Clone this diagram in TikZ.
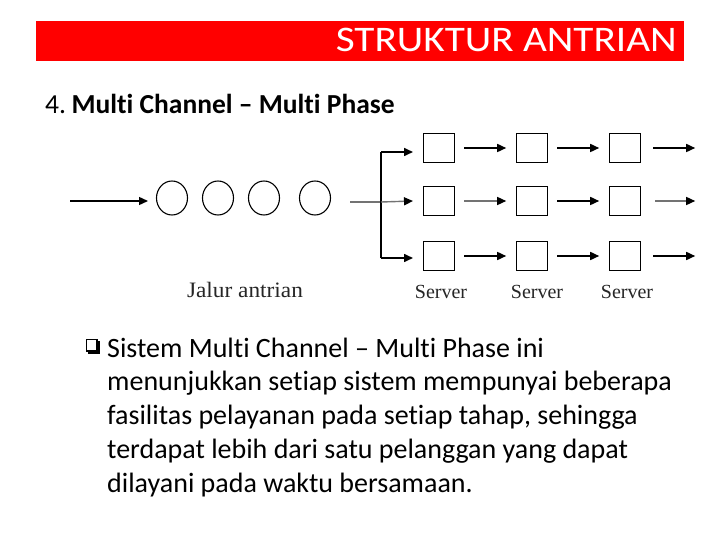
\documentclass[tikz,border=0pt]{standalone}
\usepackage{fontspec}
\setmainfont{Carlito}[Ligatures=NoCommon]
\newfontfamily\serifold{Liberation Serif}
\usetikzlibrary{arrows.meta,shapes.geometric}
\begin{document}
\begin{tikzpicture}[x=1pt,y=-1pt,
  circ/.style={draw,line width=1.1pt,ellipse,minimum width=31pt,minimum height=34pt,inner sep=0pt},
  srv/.style={draw,line width=1.4pt,minimum width=31pt,minimum height=29pt,inner sep=0pt},
  arr/.style={line width=1.6pt,-{Triangle[length=9pt,width=8pt]}},
  garr/.style={line width=1.4pt,draw=black!55,-{Triangle[length=9pt,width=8pt,color=black,fill=black]}},
  lbl/.style={font=\serifold\fontsize{20}{20}\selectfont,anchor=base,text=black!85},
  bodyline/.style={font=\fontsize{28}{28}\selectfont,anchor=base west,inner sep=0pt},
]
\useasboundingbox (0,0) rectangle (720,540);
\fill[white] (0,0) rectangle (720,540);
% title
\node[fill=red,minimum width=648pt,minimum height=40pt,inner sep=0pt,anchor=north west] (bar) at (36,21) {};
\node[text=white,font=\fontsize{36}{36}\selectfont,anchor=base east,inner sep=0pt,xscale=1.145] (title) at (677,52) {STRUKTUR ANTRIAN};
% heading
\node[font=\fontsize{27.5}{27.5}\selectfont,anchor=base west,inner sep=0pt] (head) at (45,114) {4.\hspace{0.2em}\textbf{Multi Channel – Multi Phase}};
% queue
\coordinate (in) at (70,201);
\node[circ] (c1) at (172,198) {};
\node[circ] (c2) at (218,198) {};
\node[circ] (c3) at (264,198) {};
\node[circ] (c4) at (315,198) {};
\draw[arr,line width=1.4pt] (in) -- (148,201) coordinate (inend);
\coordinate (out) at (350,202);
\coordinate (sp) at (381,202);
\coordinate (spt) at (381,152);
\coordinate (spb) at (381,258);
\draw[line width=1.4pt,draw=black!55] (out) -- (sp);
\draw[line width=1.4pt] (spt) -- (spb);
% servers
\foreach \r/\y in {1/148,2/201,3/256}{
  \node[srv] (s\r1) at (439,\y) {};
  \node[srv] (s\r2) at (532,\y) {};
  \node[srv] (s\r3) at (625,\y) {};
}
\draw[arr] (spt) -- (413,152);
\draw[garr] (sp) -- (413,201);
\draw[arr] (spb) -- (413,258);
\draw[arr] (s11.east) ++(9,0) -- ++(42,0);
\draw[arr] (s12.east) ++(9,0) -- ++(42,0);
\draw[arr] (s13.east) ++(12,0) -- ++(42,0);
\draw[garr] (s21.east) ++(9,0) -- ++(42,0);
\draw[arr] (s22.east) ++(9,0) -- ++(42,0);
\draw[garr] (s23.east) ++(14,0) -- ++(40,0);
\draw[arr] (s31.east) ++(9,0) -- ++(42,0);
\draw[arr] (s32.east) ++(9,0) -- ++(42,0);
\draw[arr] (s33.east) ++(12,0) -- ++(42,0);
\node[lbl] (l1) at (441,298) {Server};
\node[lbl] (l2) at (537,298) {Server};
\node[lbl] (l3) at (627,298) {Server};
\node[lbl,font=\serifold\fontsize{22}{22}\selectfont,xscale=1.06] (jl) at (245,297) {Jalur antrian};
% bullet
\draw[line width=1.1pt] (86.5,339.5) rectangle (97,351);
\fill (97,341) rectangle (99.8,353.5);
\fill (88,351) rectangle (99.8,353.5);
\node[bodyline] (b1) at (107,357) {Sistem Multi Channel – Multi Phase ini};
\node[bodyline] (b2) at (107,390.75) {menunjukkan setiap sistem mempunyai beberapa};
\node[bodyline] (b3) at (107,424.5) {fasilitas pelayanan pada setiap tahap, sehingga};
\node[bodyline] (b4) at (107,458.25) {terdapat lebih dari satu pelanggan yang dapat};
\node[bodyline] (b5) at (107,492) {dilayani pada waktu bersamaan.};
\end{tikzpicture}
\end{document}
